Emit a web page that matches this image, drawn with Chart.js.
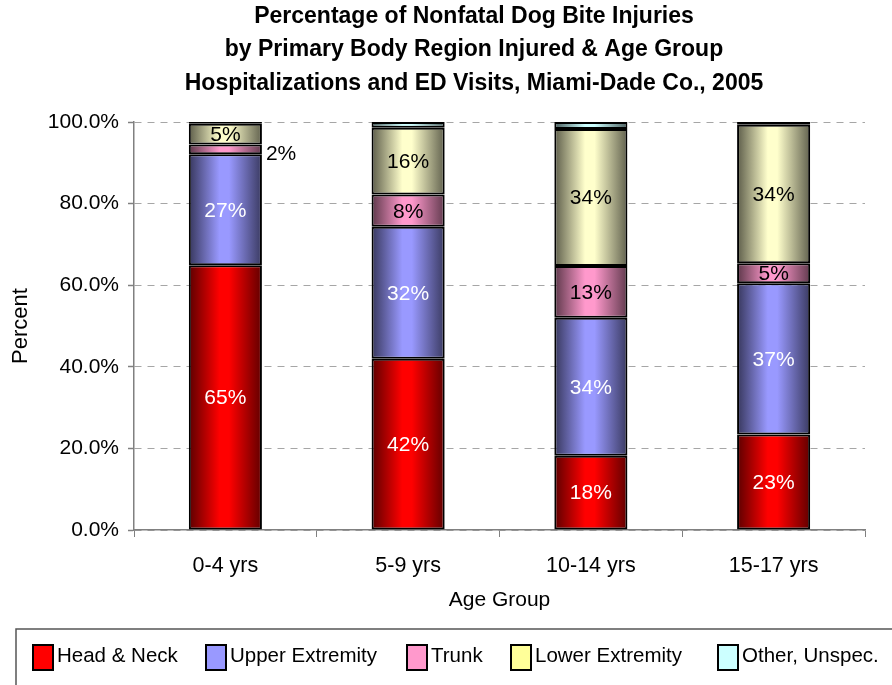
<!DOCTYPE html>
<html>
<head>
<meta charset="utf-8">
<script src="https://cdn.jsdelivr.net/npm/chart.js@4.4.1/dist/chart.umd.min.js"></script>
<style>
  body { margin: 0; background: #fff; }
  canvas { display: block; }
</style>
</head>
<body>
<canvas id="canvas" width="892" height="685"></canvas>
<script>
  //-----------------------
  // - DOG BITE INJURIES CHART -
  //-----------------------

  const ageGroups = ['0-4 yrs', '5-9 yrs', '10-14 yrs', '15-17 yrs'];
  const headNeck = [64.9, 42.0, 18.2, 23.4];
  const upperExtremity = [27.2, 32.3, 33.8, 37.1];
  const trunk = [2.4, 7.9, 12.7, 4.9];
  const lowerExtremity = [5.1, 16.4, 33.6, 33.9];
  const otherUnspec = [0.4, 1.4, 1.7, 0.7];
  const seriesNames = ['Head & Neck', 'Upper Extremity', 'Trunk', 'Lower Extremity', 'Other, Unspec.'];
  const yTicks = [0, 20, 40, 60, 80, 100];
  const titleLines = [
    'Percentage of Nonfatal Dog Bite Injuries',
    'by Primary Body Region Injured & Age Group',
    'Hospitalizations and ED Visits, Miami-Dade Co., 2005'
  ];

  const FONT = '"Liberation Sans", Arial, sans-serif';
  const barColors = [[255, 0, 0], [153, 153, 255], [255, 153, 204], [255, 255, 204], [204, 255, 255]];
  const legendColors = ['#ff0000', '#9999ff', '#ff99cc', '#ffff99', '#ccffff'];
  const labelColors = ['#ffffff', '#ffffff', '#000000', '#000000', null];
  const legendX = [33, 206, 407, 511, 718];
  const BAR_FRACTION = 0.4;

  function rgb(c, f) {
    return 'rgb(' + c.map(v => Math.round(v * f)).join(',') + ')';
  }

  // horizontal shading: dark at the edges, bright in the middle
  function barFill(index) {
    return function (context) {
      if (context.type !== 'data') return legendColors[index];
      const chart = context.chart;
      const xs = chart.scales.x;
      if (!xs) return legendColors[index];
      const cx = xs.getPixelForValue(context.dataIndex);
      const w = xs.width / ageGroups.length * BAR_FRACTION;
      if (!isFinite(cx) || !isFinite(w) || w <= 0) return legendColors[index];
      const g = chart.ctx.createLinearGradient(cx - w / 2, 0, cx + w / 2, 0);
      const c = barColors[index];
      g.addColorStop(0, rgb(c, 0.36));
      g.addColorStop(0.42, rgb(c, 1));
      g.addColorStop(0.55, rgb(c, 1));
      g.addColorStop(1, rgb(c, 0.38));
      return g;
    };
  }

  const seriesData = [headNeck, upperExtremity, trunk, lowerExtremity, otherUnspec];

  const datasets = seriesData.map((values, i) => ({
    label: seriesNames[i],
    data: values,
    backgroundColor: barFill(i),
    borderColor: '#000000',
    borderWidth: 2,
    borderSkipped: false,
    categoryPercentage: 1.0,
    barPercentage: BAR_FRACTION
  }));

  const titlePlugin = {
    id: 'titleLines',
    afterDraw(chart) {
      const c = chart.ctx;
      c.save();
      c.fillStyle = '#000';
      c.font = 'bold 23px ' + FONT;
      c.textAlign = 'center';
      c.textBaseline = 'middle';
      const ys = [17, 50, 84];
      titleLines.forEach((t, i) => c.fillText(t, 474, ys[i]));
      c.restore();
    }
  };

  const valueLabels = {
    id: 'valueLabels',
    afterDatasetsDraw(chart) {
      const c = chart.ctx;
      c.save();
      c.font = '21px ' + FONT;
      c.textBaseline = 'middle';
      chart.data.datasets.forEach((ds, di) => {
        if (!labelColors[di]) return;
        const meta = chart.getDatasetMeta(di);
        meta.data.forEach((bar, j) => {
          const v = ds.data[j];
          const txt = Math.round(v) + '%';
          const h = Math.abs(bar.base - bar.y);
          const cy = (bar.base + bar.y) / 2;
          if (h < 14) {
            c.fillStyle = '#000';
            c.textAlign = 'left';
            c.fillText(txt, bar.x + bar.width / 2 + 4, cy + 5);
          } else {
            c.fillStyle = labelColors[di];
            c.textAlign = 'center';
            c.fillText(txt, bar.x, cy + 1);
          }
        });
      });
      c.restore();
    }
  };

  const boxLegend = {
    id: 'boxLegend',
    afterDraw(chart) {
      const c = chart.ctx;
      c.save();
      c.strokeStyle = '#555';
      c.lineWidth = 1.5;
      c.strokeRect(16, 629, 900, 100);
      c.font = '20.5px ' + FONT;
      c.textBaseline = 'middle';
      c.textAlign = 'left';
      chart.data.datasets.forEach((ds, i) => {
        const x = legendX[i];
        c.fillStyle = legendColors[i];
        c.fillRect(x, 645, 20, 25);
        c.strokeStyle = '#000';
        c.lineWidth = 2;
        c.strokeRect(x, 645, 20, 25);
        c.fillStyle = '#000';
        c.fillText(ds.label, x + 24, 656);
      });
      c.restore();
    }
  };

  const ctx = document.getElementById('canvas').getContext('2d');

  const myChart = new Chart(ctx, {
    type: 'bar',
    data: {
      labels: ageGroups,
      datasets: datasets
    },
    plugins: [titlePlugin, valueLabels, boxLegend],
    options: {
      responsive: false,
      animation: false,
      layout: { padding: { top: 122, right: 27, bottom: 70, left: 0 } },
      plugins: {
        legend: { display: false },
        title: { display: false },
        tooltip: { enabled: false }
      },
      scales: {
        x: {
          stacked: true,
          afterFit(axis) { axis.height = 85; },
          grid: {
            offset: true,
            drawOnChartArea: false,
            drawTicks: true,
            tickLength: 7,
            color: '#808080'
          },
          border: { display: true, color: '#808080', width: 1.5 },
          ticks: {
            color: '#000',
            padding: 16,
            font: { family: FONT, size: 21.5 }
          },
          title: {
            display: true,
            text: 'Age Group',
            color: '#000',
            padding: { top: 0, bottom: 2 },
            font: { family: FONT, size: 21 }
          }
        },
        y: {
          stacked: true,
          min: 0,
          max: 100,
          afterFit(axis) { axis.width = 134; },
          afterBuildTicks(axis) { axis.ticks = yTicks.map(v => ({ value: v })); },
          grid: {
            color: '#a6a6a6',
            lineWidth: 1,
            drawTicks: true,
            tickLength: 6,
            tickColor: '#808080',
            tickWidth: 1.5,
            tickBorderDash: []
          },
          border: { display: true, color: '#808080', width: 1.5, dash: [7, 6] },
          ticks: {
            color: '#000',
            padding: 9,
            font: { family: FONT, size: 21 },
            callback: v => v.toFixed(1) + '%'
          },
          title: {
            display: true,
            text: 'Percent',
            color: '#000',
            padding: { top: 8, bottom: 0 },
            font: { family: FONT, size: 22 }
          }
        }
      }
    }
  });

  //---------------------------
  // - END DOG BITE INJURIES CHART -
  //---------------------------
</script>
</body>
</html>
